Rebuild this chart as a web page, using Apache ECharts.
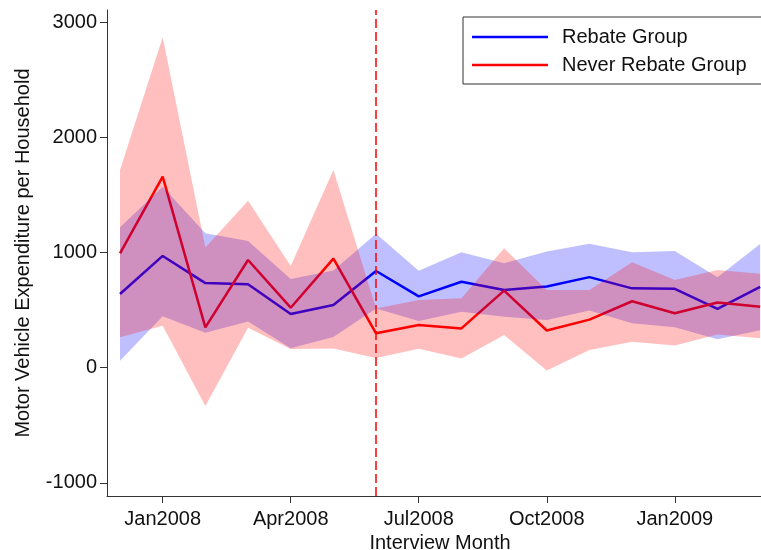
<!DOCTYPE html>
<html>
<head>
<meta charset="utf-8">
<script src="https://cdn.jsdelivr.net/npm/echarts@6/dist/echarts.min.js"></script>
<style>
html,body{margin:0;padding:0;background:#fff;}
#chart{width:761px;height:550px;}
</style>
</head>
<body>
<div id="chart"></div>
<script>
// Months (x positions are month indices)
var months = ['Dec2007','Jan2008','Feb2008','Mar2008','Apr2008','May2008','Jun2008','Jul2008','Aug2008','Sep2008','Oct2008','Nov2008','Dec2008','Jan2009','Feb2009','Mar2009'];
var tickLabels = ['Jan2008','Apr2008','Jul2008','Oct2008','Jan2009'];
var yTicks = [-1000, 0, 1000, 2000, 3000];
var rebateMonth = 'Jun2008';

var rebateMean  = [641, 972, 736, 725, 467, 545, 841, 621, 748, 676, 706, 788, 690, 686, 512, 703];
var rebateUpper = [1221, 1574, 1170, 1102, 771, 846, 1165, 843, 1005, 908, 1010, 1077, 1005, 1014, 786, 1076];
var rebateLower = [61, 447, 304, 403, 169, 267, 515, 406, 487, 444, 415, 498, 386, 353, 247, 325];

var neverMean  = [995, 1661, 351, 937, 522, 948, 299, 371, 342, 670, 324, 418, 578, 474, 567, 530];
var neverUpper = [1719, 2873, 1045, 1452, 884, 1719, 516, 589, 605, 1038, 676, 676, 918, 763, 850, 818];
var neverLower = [264, 365, -333, 348, 162, 168, 85, 165, 80, 284, -25, 154, 226, 193, 290, 256];

var FONT = 'Liberation Sans, Arial, Helvetica, sans-serif';

function pairs(arr){ return arr.map(function(v,i){ return [i, v]; }); }

function bandSeries(name, upper, lower, color, z){
  return {
    name: name,
    type: 'custom',
    z: z,
    silent: true,
    data: [[0, 0]],
    renderItem: function(params, api){
      if (params.dataIndex !== 0) return null;
      var pts = [];
      for (var i = 0; i < upper.length; i++) pts.push(api.coord([i, upper[i]]));
      for (var j = lower.length - 1; j >= 0; j--) pts.push(api.coord([j, lower[j]]));
      return { type: 'polygon', shape: { points: pts }, style: { fill: color, stroke: null } };
    }
  };
}

var chart = echarts.init(document.getElementById('chart'), null, {renderer: 'canvas'});
var tickPos = tickLabels.map(function(l){ return months.indexOf(l); });

chart.setOption({
  animation: false,
  backgroundColor: '#ffffff',
  textStyle: { fontFamily: FONT },
  grid: { left: 107, top: 10, width: 654, height: 486, containLabel: false, outerBoundsMode: 'none' },
  legend: {
    data: ['Rebate Group', 'Never Rebate Group'],
    orient: 'vertical',
    left: 463, top: 17,
    icon: 'rect',
    itemWidth: 76, itemHeight: 2.5,
    itemGap: 8,
    padding: [10, 40, 9, 9],
    borderColor: '#333', borderWidth: 1,
    textStyle: { fontSize: 20, fontFamily: FONT, color: '#111', lineHeight: 20, padding: [0, 0, 0, 9] }
  },
  xAxis: {
    type: 'value',
    min: -0.305, max: 15.02,
    name: 'Interview Month',
    nameLocation: 'middle',
    nameGap: 31,
    nameTextStyle: { fontSize: 20, fontFamily: FONT, color: '#111', padding: [0, 0, 0, 12] },
    axisLine: { show: true, onZero: false, lineStyle: { color: '#333', width: 1 } },
    axisTick: { show: true, length: 7, customValues: tickPos, lineStyle: { color: '#333' } },
    axisLabel: {
      show: true, customValues: tickPos, margin: 13,
      fontSize: 20, fontFamily: FONT, color: '#111',
      formatter: function(v){ return months[Math.round(v)]; }
    },
    splitLine: { show: false }
  },
  yAxis: {
    type: 'value',
    min: -1115, max: 3110,
    name: 'Motor Vehicle Expenditure per Household',
    nameLocation: 'middle',
    nameGap: 74,
    nameTextStyle: { fontSize: 20, fontFamily: FONT, color: '#111' },
    axisLine: { show: true, onZero: false, lineStyle: { color: '#333', width: 1 } },
    axisTick: { show: true, length: 7, customValues: yTicks, lineStyle: { color: '#333' } },
    axisLabel: {
      show: true, customValues: yTicks, margin: 10, fontSize: 20, fontFamily: FONT, color: '#111',
      formatter: function(v){ return String(v); }
    },
    splitLine: { show: false }
  },
  series: [
    {
      name: 'Rebate Group', type: 'line', z: 2,
      data: pairs(rebateMean), showSymbol: false, symbol: 'none',
      lineStyle: { color: '#0000ff', width: 2.5 }, itemStyle: { color: '#0000ff' }
    },
    {
      name: 'Never Rebate Group', type: 'line', z: 2,
      data: pairs(neverMean), showSymbol: false, symbol: 'none',
      lineStyle: { color: '#ff0000', width: 2.5 }, itemStyle: { color: '#ff0000' },
      markLine: {
        silent: true, symbol: ['none', 'none'], label: { show: false },
        lineStyle: { color: '#ff0000', width: 1.5, type: [9, 4] },
        data: [{ xAxis: months.indexOf(rebateMonth) }]
      }
    },
    bandSeries('Rebate CI', rebateUpper, rebateLower, 'rgba(0,0,255,0.25)', 3),
    bandSeries('Never Rebate CI', neverUpper, neverLower, 'rgba(255,0,0,0.25)', 4)
  ]
});
</script>
</body>
</html>
